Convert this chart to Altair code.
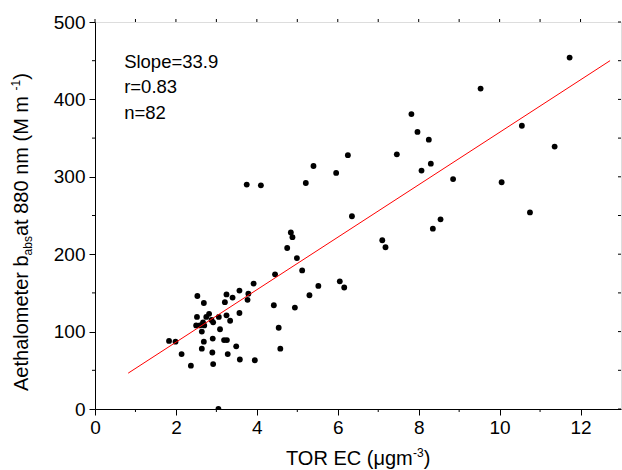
import altair as alt
import pandas as pd

# ---- data ----
ec = [11.73, 9.53, 7.82, 7.97, 8.25, 7.46, 10.55, 8.30, 8.07, 11.36, 8.85, 10.05,
      8.54, 8.35, 10.75, 7.10, 7.18, 6.25, 5.40, 5.96, 3.75, 4.10, 5.21, 6.35,
      4.84, 4.88, 4.75, 4.99, 5.12, 4.45, 6.05, 6.16, 5.52, 5.30, 3.92, 3.57,
      3.79, 3.77, 3.40, 4.42, 4.94, 3.57, 3.34, 4.54, 4.58, 3.25, 2.53, 2.69,
      3.21, 2.52, 2.82, 2.75, 2.88, 3.06, 3.25, 2.50, 2.59, 2.67, 2.70, 2.64,
      2.92, 3.09, 1.83, 1.99, 2.69, 2.91, 3.19, 3.26, 3.49, 2.14, 2.64, 2.90,
      3.28, 2.37, 2.92, 3.58, 3.95, 3.05]
babs = [454, 414, 381, 358, 348, 329, 366, 317, 308, 339, 297, 293,
        245, 233, 254, 218, 209, 328, 314, 305, 290, 289, 292, 249,
        228, 222, 208, 195, 179, 174, 165, 157, 159, 147, 162, 153,
        149, 141, 144, 134, 131, 124, 114, 105, 78, 148, 146, 137,
        138, 119, 123, 119, 115, 119, 121, 108, 108, 112, 108, 100,
        112, 103, 88, 87, 87, 91, 89, 89, 81, 71, 78, 73,
        71, 56, 58, 64, 63, 0]

slope = 33.9
intercept = 18.5
fit_x = [0.82, 12.73]

annot_text = ["Slope=33.9", "r=0.83", "n=82"]
annot_y = [448.7, 415.9, 382.3]
annot_x = 0.72

x_major = [0, 2, 4, 6, 8, 10, 12]
x_minor = [1, 3, 5, 7, 9, 11]
y_major = [0, 100, 200, 300, 400, 500]
y_minor = [50, 150, 250, 350, 450]

FONT = "Liberation Sans"
W, H = 526, 387

pts = pd.DataFrame({"ec": ec, "babs": babs})
fit = pd.DataFrame({"ec": fit_x})
ann = pd.DataFrame({"t": annot_text, "y": annot_y, "x": [annot_x] * 3})
xmin_df = pd.DataFrame({"v": x_minor})
xall_df = pd.DataFrame({"v": x_major + x_minor})
ymin_df = pd.DataFrame({"v": y_minor})

xs = alt.Scale(domain=[0, 13], nice=False, zero=False)
ys = alt.Scale(domain=[0, 500], nice=False, zero=False)

xaxis = alt.Axis(values=x_major, tickSize=6, labelFontSize=19, labelFont=FONT,
                 labelColor="black", tickColor="black", domainColor="black",
                 labelPadding=3, grid=False, title=None, labelFlush=False, format="d")
yaxis = alt.Axis(values=y_major, tickSize=6, labelFontSize=19, labelFont=FONT,
                 labelColor="black", tickColor="black", domainColor="black",
                 labelPadding=4, grid=False, title=None, labelFlush=False, format="d")

points = alt.Chart(pts).mark_circle(color="black", size=34, opacity=1, clip=True).encode(
    x=alt.X("ec:Q", scale=xs, axis=xaxis),
    y=alt.Y("babs:Q", scale=ys, axis=yaxis),
)

line = alt.Chart(fit).transform_calculate(
    y=f"{slope} * datum.ec + {intercept}"
).mark_line(color="red", strokeWidth=1).encode(
    x=alt.X("ec:Q", scale=xs),
    y=alt.Y("y:Q", scale=ys),
)

annot = alt.Chart(ann).mark_text(align="left", baseline="middle", fontSize=18.5,
                                 font=FONT, color="black").encode(
    x=alt.X("x:Q", scale=xs), y=alt.Y("y:Q", scale=ys), text="t:N")

# minor ticks bottom (outward)
xminor = alt.Chart(xmin_df).mark_rule(color="black", strokeWidth=1).encode(
    x=alt.X("v:Q", scale=xs), y=alt.value(H), y2=alt.value(H + 3))
# ticks on top frame
xtop = alt.Chart(xall_df).mark_rule(color="black", strokeWidth=1).encode(
    x=alt.X("v:Q", scale=xs), y=alt.value(-3), y2=alt.value(0))
# minor ticks left (outward)
yminor = alt.Chart(ymin_df).mark_rule(color="black", strokeWidth=1).encode(
    y=alt.Y("v:Q", scale=ys), x=alt.value(-3), x2=alt.value(0))
# ticks on right frame (inward)
yright = alt.Chart(pd.DataFrame({"v": y_major + y_minor})).mark_rule(
    color="black", strokeWidth=1).encode(
    y=alt.Y("v:Q", scale=ys), x=alt.value(W - 3), x2=alt.value(W))


def piece(text, px, py, size, angle=0):
    return alt.Chart(pd.DataFrame({"t": [text]})).mark_text(
        align="left", baseline="alphabetic", fontSize=size, font=FONT,
        color="black", angle=angle).encode(
        x=alt.value(px), y=alt.value(py), text="t:N")


# x title: TOR EC (μgm^-3)
big, small = 20, 12
xt0 = 191
xb = 443
x_title = [
    piece("TOR EC (\u03bcgm", xt0, xb, big),
    piece("-3", xt0 + 127.1, xb - 8, small),
    piece(")", xt0 + 127.1 + 10.7, xb, big),
]

# y title: Aethalometer b_abs at 880 nm (M m^-1)
yb = -67
yy0 = 369
w1 = 6.781 * big
w2 = 1.612 * small
w3 = 7.28 * big
w4 = 0.889 * small
y_title = [
    piece("Aethalometer b", yb, yy0, big, 270),
    piece("abs", yb + 4, yy0 - w1, small, 270),
    piece(" at 880 nm (M m", yb, yy0 - w1 - w2, big, 270),
    piece("-1", yb - 8, yy0 - w1 - w2 - w3, small, 270),
    piece(")", yb, yy0 - w1 - w2 - w3 - w4, big, 270),
]

chart = alt.layer(points, line, annot, xminor, xtop, yminor, yright,
                  *x_title, *y_title).properties(
    width=W, height=H,
    autosize=alt.AutoSizeParams(type="none"),
    padding={"left": 95, "top": 22, "right": 1, "bottom": 61},
).configure_view(stroke="black", strokeWidth=1).configure(background="white")

chart.save("out.html", embed_options={"renderer": "svg", "actions": False})
